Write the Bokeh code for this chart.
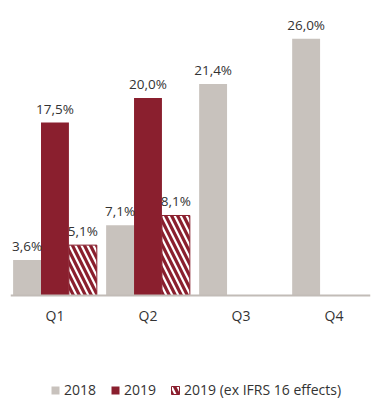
from bokeh.plotting import figure
from bokeh.models import ColumnDataSource, Legend, LegendItem, FixedTicker, Range1d
from bokeh.transform import dodge
from bokeh.core.properties import value
from bokeh.embed import file_html
from bokeh.resources import INLINE

quarters = ["Q1", "Q2", "Q3", "Q4"]
v2018 = [3.6, 7.1, 21.4, 26.0]
quarters_2019 = ["Q1", "Q2"]
v2019 = [17.5, 20.0]
v2019_ex = [5.1, 8.1]
series_names = ["2018", "2019", "2019 (ex IFRS 16 effects)"]

GRAY = "#C8C2BD"
RED = "#8A1F2E"
TXT = "#333333"
FONT = "Open Sans"

def fmt(v):
    return f"{v:.1f}%".replace(".", ",")

s18 = ColumnDataSource(dict(idx=[quarters.index(q) for q in quarters], v=v2018, lbl=[fmt(v) for v in v2018]))
s19 = ColumnDataSource(dict(idx=[quarters.index(q) for q in quarters_2019], v=v2019, lbl=[fmt(v) for v in v2019]))
s19x = ColumnDataSource(dict(idx=[quarters.index(q) for q in quarters_2019], v=v2019_ex, lbl=[fmt(v) for v in v2019_ex]))

p = figure(width=371, height=404, output_backend="svg", toolbar_location=None,
           x_range=Range1d(-0.478, 3.392), y_range=Range1d(-11.03, 29.86),
           y_axis_location=None,
           min_border_left=10, min_border_right=1, min_border_top=0, min_border_bottom=0)
p.outline_line_color = None
p.xgrid.visible = False
p.ygrid.visible = False
p.background_fill_color = "white"
p.border_fill_color = "white"

r18 = p.vbar(x=dodge("idx", -0.3, range=p.x_range), top="v", width=0.3, source=s18,
             fill_color=GRAY, line_color=None)
r19 = p.vbar(x=dodge("idx", 0.0, range=p.x_range), top="v", width=0.3, source=s19,
             fill_color=RED, line_color=None)
r19x = p.vbar(x=dodge("idx", 0.3, range=p.x_range), top="v", width=0.3, source=s19x,
              fill_color="white", line_color=RED, line_width=1,
              hatch_pattern="left_diagonal_line", hatch_color=RED, hatch_weight=3.2, hatch_scale=12)

for src, off in [(s18, -0.3), (s19, 0.0), (s19x, 0.3)]:
    p.text(x=dodge("idx", off, range=p.x_range), y="v", text="lbl", source=src,
           text_align="center", text_baseline="alphabetic", y_offset=-14,
           text_font=value(FONT), text_font_size="13.5px", text_color=TXT)

ax = p.xaxis[0]
ax.fixed_location = 0
ax.ticker = FixedTicker(ticks=list(range(len(quarters))))
ax.major_label_overrides = {i: q for i, q in enumerate(quarters)}
ax.major_tick_line_color = None
ax.minor_tick_line_color = None
ax.major_tick_out = 0
ax.major_tick_in = 0
ax.axis_line_color = "#C2BCB7"
ax.axis_line_width = 2
ax.major_label_standoff = 10
ax.major_label_text_font = FONT
ax.major_label_text_font_size = "14px"
ax.major_label_text_color = TXT

legend = Legend(items=[LegendItem(label=series_names[0], renderers=[r18]),
                       LegendItem(label=series_names[1], renderers=[r19]),
                       LegendItem(label=series_names[2], renderers=[r19x])],
                location=(40, 5), orientation="horizontal",
                glyph_width=10, glyph_height=10, label_standoff=4, spacing=14,
                padding=0, margin=0, border_line_color=None, background_fill_alpha=0,
                label_text_font=FONT, label_text_font_size="14px", label_text_color=TXT)
p.add_layout(legend, "center")

open("out.html", "w").write(file_html(p, INLINE))
